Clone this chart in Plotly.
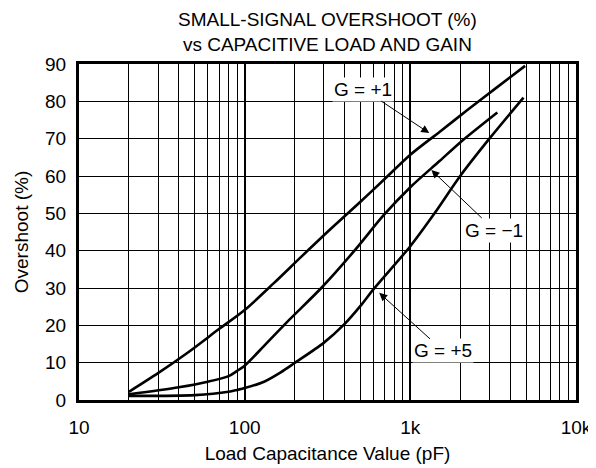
import math
import plotly.graph_objects as go

# ---- data ----
g1_x = [20, 30, 45, 70, 100, 150, 220, 330, 500, 700, 1000, 1500, 2200, 3300, 4930]
g1_y = [2.2, 7.2, 12.6, 19.0, 24.1, 31.3, 38.4, 45.8, 53.1, 59.2, 65.7, 71.8, 77.6, 83.6, 89.5]

gm1_x = [20, 40, 60, 80, 90, 100, 131, 185, 290, 460, 690, 1000, 1500, 2000, 3350]
gm1_y = [1.5, 3.4, 4.9, 6.4, 7.8, 9.2, 14.5, 21.4, 30, 40, 49.5, 57, 64, 69, 77]

g5_x = [20, 50, 80, 90, 100, 131, 165, 200, 300, 400, 500, 600, 1000, 1400, 2000, 3000, 4820]
g5_y = [1.1, 1.3, 2.2, 2.7, 3.2, 4.9, 7.4, 9.9, 15.3, 20.3, 25.2, 29.7, 41.2, 50, 60, 70, 81]

x_tickvals = [10, 100, 1000, 10000]
x_ticktext = ["10", "100", "1k", "10k"]
x_minor = [m * d for d in (10, 100, 1000) for m in range(2, 10)]
y_tickvals = [0, 10, 20, 30, 40, 50, 60, 70, 80, 90]

labels = [
    # text, tip x, tip y, tail offset (px)
    ("G = +1", 1300, 71.5, -66, -44),
    ("G = \u22121", 1340, 61.6, 63, 60),
    ("G = +5", 649, 28.7, 64, 58),
]

FONT = "Liberation Sans, Arial, sans-serif"
FS = 19

fig = go.Figure()
for xs, ys in ((g1_x, g1_y), (gm1_x, gm1_y), (g5_x, g5_y)):
    fig.add_trace(go.Scatter(x=xs, y=ys, mode="lines",
                             line=dict(color="black", width=2.6, shape="spline", smoothing=0.8),
                             showlegend=False, hoverinfo="skip"))

for text, tx, ty, ax, ay in labels:
    fig.add_annotation(x=math.log10(tx), y=ty, xref="x", yref="y",
                       text=text, showarrow=True, ax=ax, ay=ay,
                       arrowhead=2, arrowsize=1.6, arrowwidth=1, arrowcolor="black",
                       bgcolor="white", borderpad=1,
                       font=dict(family=FONT, size=FS, color="black"))

fig.add_annotation(text="SMALL-SIGNAL OVERSHOOT (%)<br>vs CAPACITIVE LOAD AND GAIN",
                   xref="paper", yref="paper", x=0.5, y=1.0, yshift=7,
                   xanchor="center", yanchor="bottom", showarrow=False,
                   font=dict(family=FONT, size=FS, color="black"))

# the page body has an 8px margin, so the figure is sized to fit inside the window
fig.update_layout(
    width=588, height=460,
    margin=dict(l=71, r=20, t=56, b=68, autoexpand=False),
    paper_bgcolor="white", plot_bgcolor="white",
    font=dict(family=FONT, size=FS, color="black"),
    xaxis=dict(type="log", range=[1, 4], automargin=False,
               tickvals=x_tickvals, ticktext=x_ticktext,
               tickfont=dict(family=FONT, size=FS),
               showgrid=True, gridcolor="black", gridwidth=2,
               minor=dict(tickvals=x_minor, showgrid=True, gridcolor="black", gridwidth=1),
               showline=True, mirror=True, linecolor="black", linewidth=3,
               ticks="", ticklabelstandoff=8, zeroline=False,
               title=dict(text="Load Capacitance Value (pF)", standoff=10,
                          font=dict(family=FONT, size=FS))),
    yaxis=dict(range=[0, 90], tickvals=y_tickvals, automargin=False,
               tickfont=dict(family=FONT, size=FS),
               showgrid=True, gridcolor="black", gridwidth=1,
               showline=True, mirror=True, linecolor="black", linewidth=3,
               ticks="", ticklabelstandoff=6, zeroline=False,
               title=dict(text="Overshoot (%)", standoff=12,
                          font=dict(family=FONT, size=FS))),
)

fig.write_html("out.html")
